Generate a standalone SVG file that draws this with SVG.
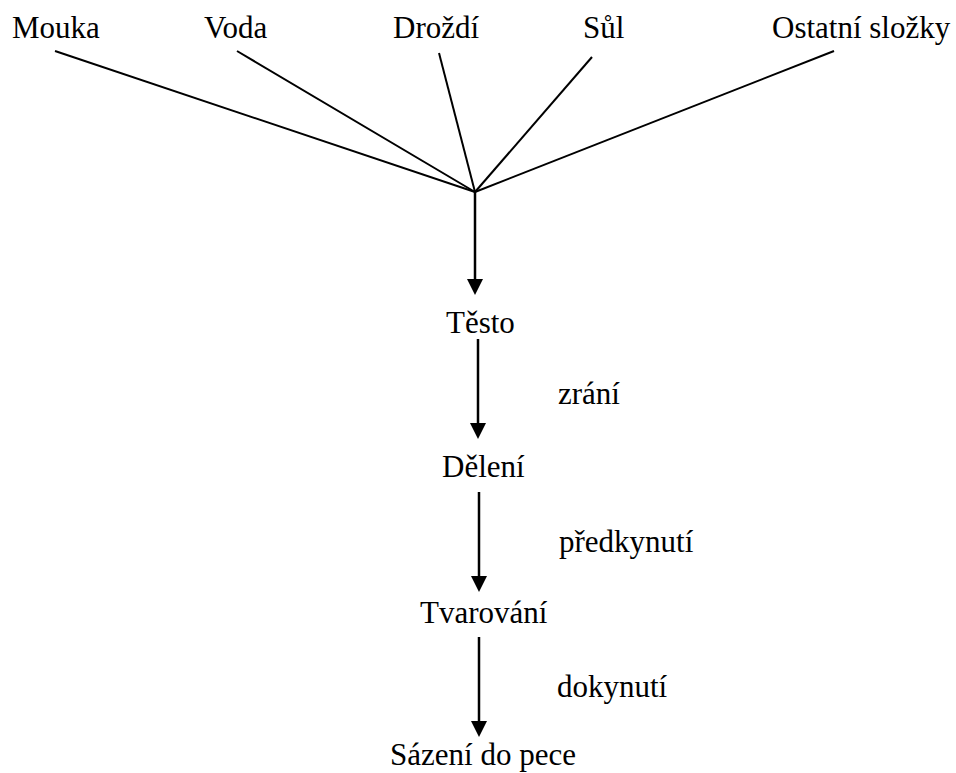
<svg xmlns="http://www.w3.org/2000/svg" width="956" height="773" viewBox="0 0 956 773">
  <style>
    text { font-family: "Liberation Serif", "Times New Roman", serif; font-size: 31px; fill: #000; }
    .feed { stroke: #000; stroke-width: 2; fill: none; }
    .flow { stroke: #000; stroke-width: 2.5; fill: none; }
  </style>
  <defs>
    <marker id="arrow" markerUnits="userSpaceOnUse" markerWidth="16" markerHeight="16" viewBox="0 0 16 16" refX="6" refY="8" orient="auto">
      <path d="M0,0 L16,8 L0,16 z" fill="#000"/>
    </marker>
  </defs>

  <!-- ingredients -->
  <g id="mouka"><text x="12" y="38">Mouka</text></g>
  <g id="voda"><text x="204" y="38">Voda</text></g>
  <g id="drozdi"><text x="393" y="38">Droždí</text></g>
  <g id="sul"><text x="583" y="38">Sůl</text></g>
  <g id="ostatni"><text x="772" y="38">Ostatní složky</text></g>

  <!-- process steps -->
  <g id="testo"><text x="446" y="333">Těsto</text></g>
  <g id="deleni"><text x="442" y="477">Dělení</text></g>
  <g id="tvarovani"><text x="420" y="623">Tvarování</text></g>
  <g id="sazeni"><text x="390" y="765">Sázení do pece</text></g>

  <!-- connectors -->
  <g id="connectors">
    <line class="feed" x1="55" y1="51" x2="475" y2="192"/>
    <line class="feed" x1="237" y1="51" x2="475" y2="192"/>
    <line class="feed" x1="439" y1="53" x2="475" y2="192"/>
    <line class="feed" x1="592" y1="57" x2="475" y2="192"/>
    <line class="feed" x1="834" y1="51" x2="475" y2="192"/>
    <line class="flow" x1="475" y1="192" x2="475" y2="285" marker-end="url(#arrow)"/>
    <line class="flow" x1="478" y1="339" x2="478" y2="429" marker-end="url(#arrow)"/>
    <line class="flow" x1="479" y1="492" x2="479" y2="582" marker-end="url(#arrow)"/>
    <line class="flow" x1="479" y1="637" x2="479" y2="727" marker-end="url(#arrow)"/>
    <text x="558" y="404">zrání</text>
    <text x="559" y="552">předkynutí</text>
    <text x="557" y="697">dokynutí</text>
  </g>
</svg>
